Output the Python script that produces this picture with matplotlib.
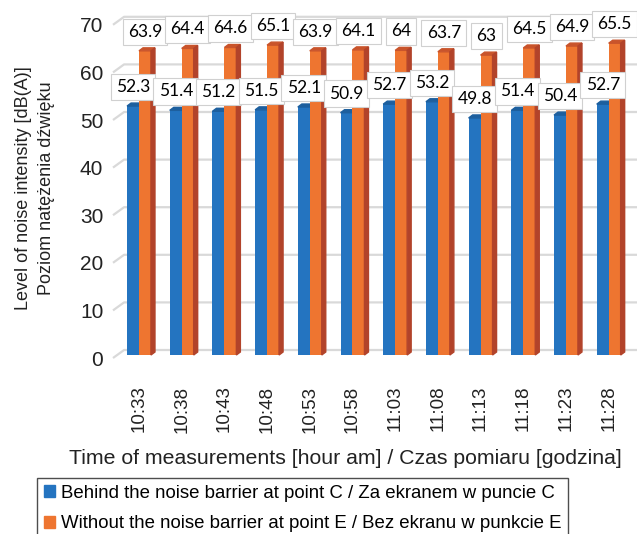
import numpy as np
import matplotlib
matplotlib.use("Agg")
import matplotlib.pyplot as plt
from matplotlib.patches import Polygon, Patch
from matplotlib.transforms import ScaledTranslation

plt.rcParams['font.family'] = ['Liberation Sans', 'DejaVu Sans']

# data
times = ["10:33", "10:38", "10:43", "10:48", "10:53", "10:58",
         "11:03", "11:08", "11:13", "11:18", "11:23", "11:28"]
behind = [52.3, 51.4, 51.2, 51.5, 52.1, 50.9, 52.7, 53.2, 49.8, 51.4, 50.4, 52.7]
without = [63.9, 64.4, 64.6, 65.1, 63.9, 64.1, 64, 63.7, 63, 64.5, 64.9, 65.5]
yticks = [0, 10, 20, 30, 40, 50, 60, 70]

blue = "#2474c0"
orange = "#ee7530"
orange_side = "#b2432a"
orange_top = "#c9542b"
blue_top = "#1d5f9e"
grid = "#d9d9d9"

fig = plt.figure(figsize=(6.37, 5.34), dpi=100)
W, H = 637, 534
ax = fig.add_axes([113 / W, (H - 362) / H, 524 / W, 352 / H])
ax.set_xlim(-0.609, 11.663)
ax.set_ylim(-1.47, 72.48)

x = np.arange(len(times))
w = 0.28
dx, dy = 0.094, 0.63  # depth of the 3d faces (data units)

# slanted 3d gridlines
for v in yticks:
    ax.plot([-0.609, -0.35, 11.663], [v - 0.63, v + 1.05, v + 1.05],
            color=grid, lw=1.6, zorder=0, clip_on=False, solid_capstyle='butt')

ax.bar(x - w / 2, behind, w, color=blue, zorder=2)
ax.bar(x + w / 2, without, w, color=orange, zorder=3)

for i in range(len(times)):
    b, o = behind[i], without[i]
    # top face of blue bar
    ax.add_patch(Polygon([[i - w, b], [i - w + dx, b + dy], [i + dx, b + dy], [i, b]],
                         closed=True, color=blue_top, zorder=2))
    # top and side of orange bar
    ax.add_patch(Polygon([[i, o], [i + dx, o + dy], [i + w + dx, o + dy], [i + w, o]],
                         closed=True, color=orange_top, zorder=3))
    ax.add_patch(Polygon([[i + w, 0], [i + w + dx, dy], [i + w + dx, o + dy], [i + w, o]],
                         closed=True, color=orange_side, zorder=3))

box = dict(boxstyle="square,pad=0.3", fc="white", ec="#d0d0d0", lw=0.8)
for i in range(len(times)):
    ax.annotate(f"{behind[i]:g}", (x[i] - w / 2, behind[i]), xytext=(0, 13.7),
                textcoords="offset points", ha="center", va="center",
                fontsize=12.5, family=["Lato", "DejaVu Sans"], bbox=box, zorder=5)
    ax.annotate(f"{without[i]:g}", (x[i] + w / 2, without[i]), xytext=(0, 13.7),
                textcoords="offset points", ha="center", va="center",
                fontsize=12.5, family=["Lato", "DejaVu Sans"], bbox=box, zorder=5)

ax.set_yticks(yticks)
ax.set_yticklabels([str(t) for t in yticks], fontsize=15, color="#222222")
ax.set_xticks(x)
ax.set_xticklabels(times, rotation=90, fontsize=13.5, color="#222222")
ax.tick_params(axis="y", length=0, pad=7)
ax.tick_params(axis="x", length=0, pad=17)
for lab in ax.get_yticklabels():
    lab.set_transform(lab.get_transform() + ScaledTranslation(0, -3 / 100, fig.dpi_scale_trans))
for s in ax.spines.values():
    s.set_visible(False)
ax.set_facecolor("none")

fig.text(345 / W, 1 - 458 / H, "Time of measurements [hour am] / Czas pomiaru [godzina]",
         ha="center", va="center", fontsize=15.3, color="#222222")
fig.text(35 / W, 1 - 188 / H, "Level of noise intensity [dB(A)]\nPoziom natężenia dźwięku",
         ha="center", va="center", rotation=90, ma="center", fontsize=13,
         color="#222222", linespacing=1.4)

handles = [Patch(color=blue), Patch(color=orange)]
labels = ["Behind the noise barrier at point C / Za ekranem w puncie C",
          "Without the noise barrier at point E / Bez ekranu w punkcie E"]
leg = fig.legend(handles, labels, loc="upper left", bbox_to_anchor=(37 / W, 1 - 478 / H),
                 fontsize=13.4, frameon=True, fancybox=False, edgecolor="#222222",
                 handlelength=0.6, handleheight=0.6, handletextpad=0.35,
                 labelspacing=0.75, borderpad=0.35, borderaxespad=0)
leg.get_frame().set_linewidth(1.0)

fig.savefig("out.png", dpi=100)
